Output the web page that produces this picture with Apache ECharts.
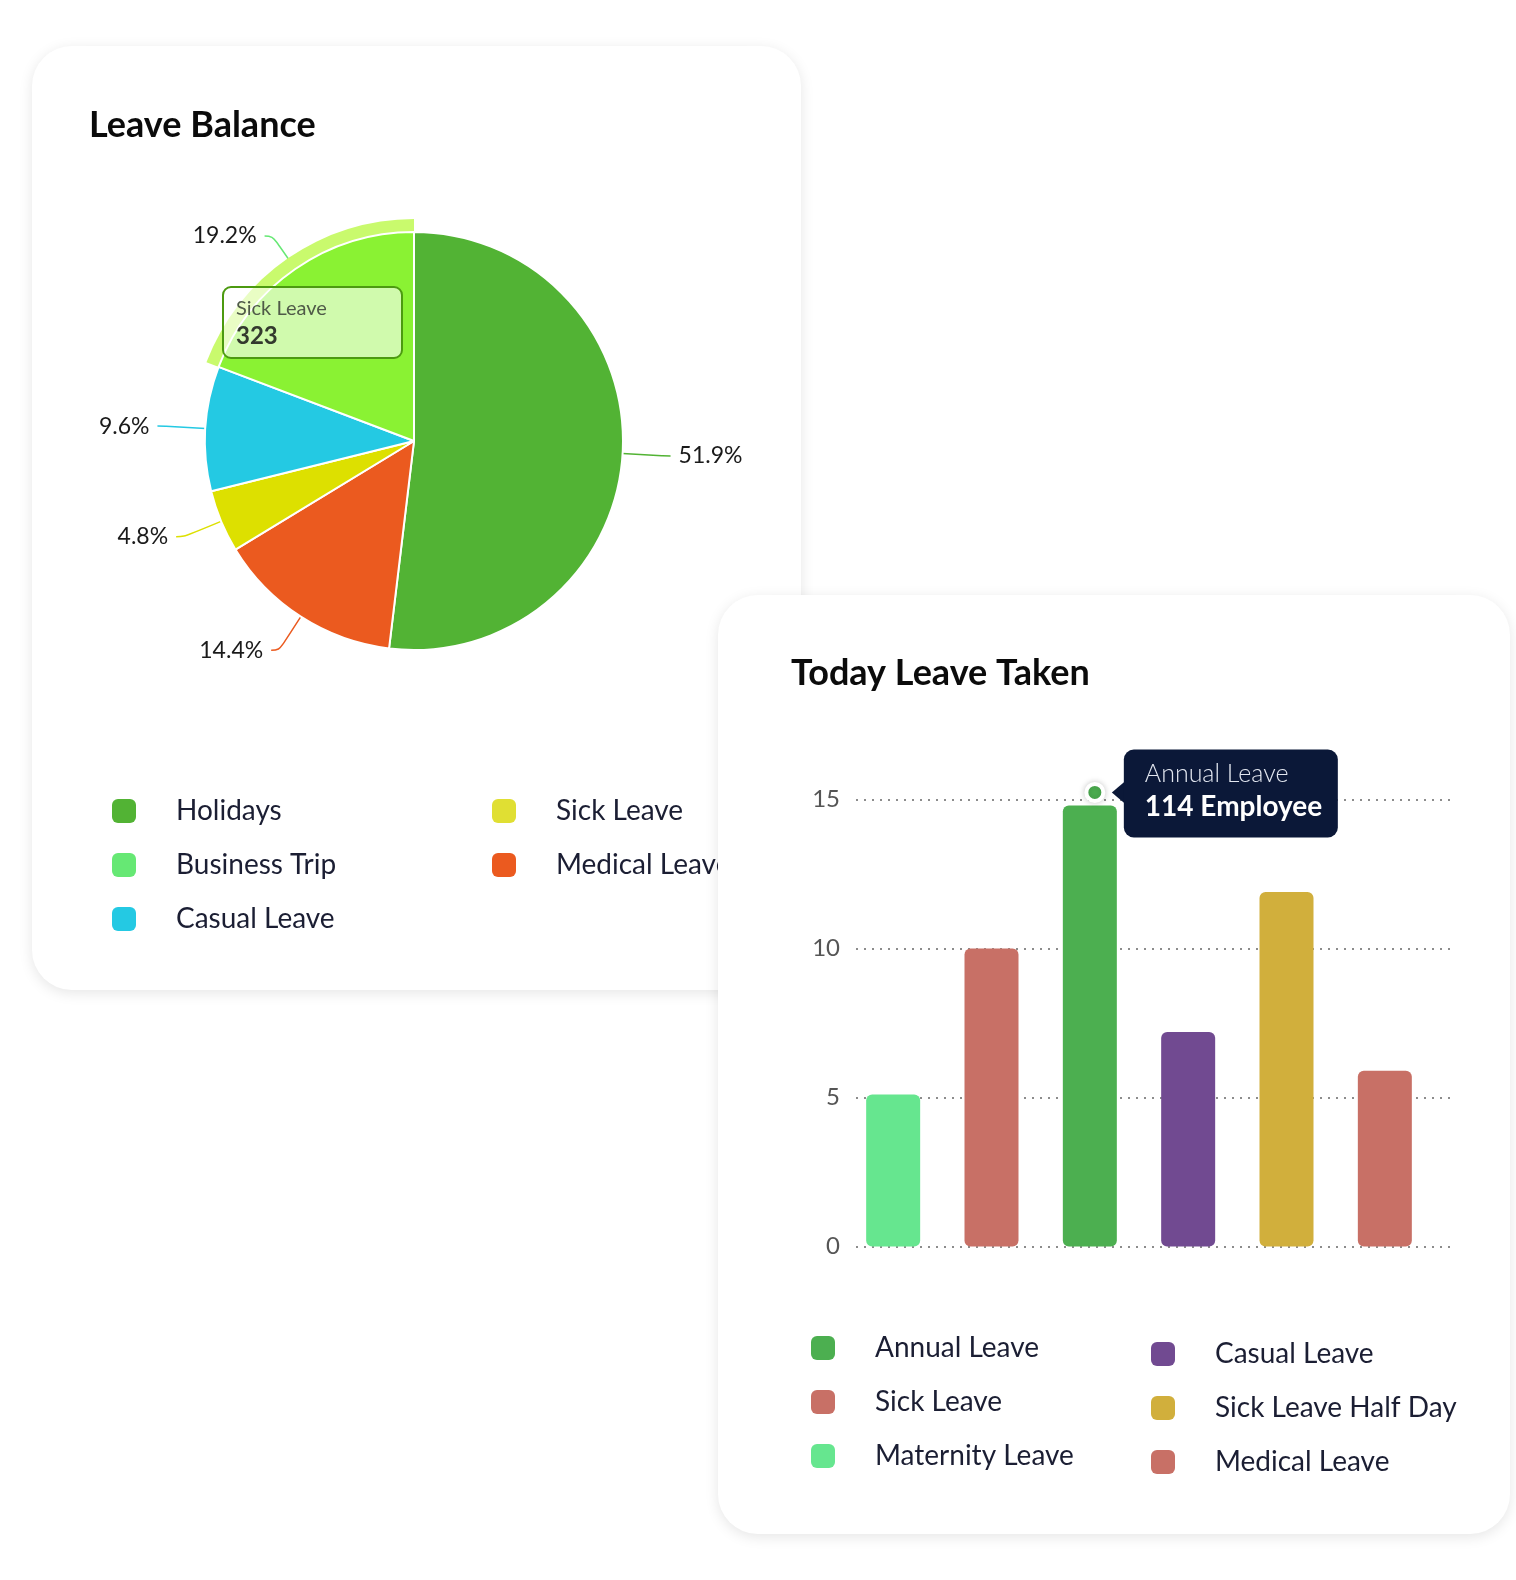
<!DOCTYPE html>
<html>
<head>
<meta charset="utf-8">
<script src="https://cdn.jsdelivr.net/npm/echarts@6/dist/echarts.min.js"></script>
<style>
html,body{margin:0;padding:0;background:#ffffff;}
#c1,#c2{position:absolute;left:0;top:0;width:1516px;height:1580px;}
</style>
</head>
<body>
<div id="c1"></div>
<div id="c2"></div>
<script>
// ---------- Leave Balance (pie) ----------
const pieTitle = 'Leave Balance';
const pieCategories = ['Holidays', 'Medical Leave', 'Sick Leave', 'Casual Leave', 'Business Trip'];
const pieValues = [872, 242, 81, 162, 323];
const pieColors = ['#52b334', '#eb5a1f', '#dde000', '#24c9e3', '#8af233'];
const pieLineColors = ['#52b334', '#eb5a1f', '#dde000', '#24c9e3', '#66e874'];
const pieHighlightIndex = 4;
const pieLegendCol1 = ['Holidays', 'Business Trip', 'Casual Leave'];
const pieLegendCol2 = ['Sick Leave', 'Medical Leave'];
const pieLegendColors = ['#52b334', '#66e874', '#24c9e3', '#e0df33', '#eb5a1f'];
const pieTipName = 'Sick Leave';
const pieTipValue = 323;

// ---------- Today Leave Taken (bars) ----------
const barTitle = 'Today Leave Taken';
const barCategories = ['Maternity Leave', 'Sick Leave', 'Annual Leave', 'Casual Leave', 'Sick Leave Half Day', 'Medical Leave'];
const barValues = [5.1, 10, 14.8, 7.2, 11.9, 5.9];
const barColors = ['#66e68f', '#c87066', '#4caf50', '#714a91', '#d1af3c', '#c87066'];
const yTicks = [0, 5, 10, 15];
const barLegendCol1 = ['Annual Leave', 'Sick Leave', 'Maternity Leave'];
const barLegendCol2 = ['Casual Leave', 'Sick Leave Half Day', 'Medical Leave'];
const barTipCategory = 'Annual Leave';
const barTipText = '114 Employee';

const FONT = 'Lato';
const pieTotal = pieValues.reduce((a, b) => a + b, 0);

function legendBlock(names, colorOf, left, top) {
  return {
    orient: 'vertical', left: left, top: top, padding: 0,
    itemWidth: 24, itemHeight: 24, itemGap: 24, icon: 'roundRect',
    selectedMode: false,
    data: names.map(n => ({ name: n, itemStyle: { color: colorOf(n) } })),
    textStyle: { fontFamily: FONT, fontSize: 28, color: '#1b1e33', lineHeight: 30, padding: [0, 0, 0, 35] }
  };
}

// ===== Chart 1 =====
const chart1 = echarts.init(document.getElementById('c1'), null, { renderer: 'canvas' });
const pieLegendAll = pieLegendCol1.concat(pieLegendCol2);
const pieLegendColorOf = n => pieLegendColors[pieLegendAll.indexOf(n)];
chart1.setOption({
  animation: false,
  graphic: [
    { type: 'rect', z: -5, shape: { x: 32, y: 46, width: 769, height: 944, r: 40 },
      style: { fill: '#ffffff', shadowBlur: 14, shadowColor: 'rgba(0,0,0,0.10)', shadowOffsetY: 3 } },
    { type: 'text', z: 10, x: 89, y: 125,
      style: { text: pieTitle, font: 'bold 36px Lato', fill: '#0b0b0b', verticalAlign: 'middle' } },
    { type: 'group', z: 100, children: [
      { type: 'rect', z: 100, shape: { x: 223, y: 287, width: 179, height: 71, r: 8 },
        style: { fill: 'rgba(255,255,255,0.6)', stroke: '#4c9a10', lineWidth: 2 } },
      { type: 'text', z: 101, x: 236, y: 309,
        style: { text: pieTipName, font: '20px Lato', fill: '#4f5a48', verticalAlign: 'middle' } },
      { type: 'text', z: 101, x: 236, y: 336,
        style: { text: String(pieTipValue), font: 'bold 24px Lato', fill: '#333a2e', verticalAlign: 'middle' } }
    ] }
  ],
  legend: [
    legendBlock(pieLegendCol1, pieLegendColorOf, 112, 796),
    legendBlock(pieLegendCol2, pieLegendColorOf, 492, 796)
  ],
  series: [
    {
      type: 'pie', name: 'highlight', center: [414, 441], radius: [0, 222],
      startAngle: 90, clockwise: true, silent: true, avoidLabelOverlap: false,
      label: { show: false }, labelLine: { show: false },
      data: pieCategories.map((c, i) => ({ name: c, value: pieValues[i],
        itemStyle: { color: i === pieHighlightIndex ? '#c9fa6d' : 'rgba(0,0,0,0)' } }))
    },
    {
      type: 'pie', name: pieTitle, center: [414, 441], radius: [0, 209],
      startAngle: 90, clockwise: true, avoidLabelOverlap: false,
      itemStyle: { borderColor: '#ffffff', borderWidth: 2 },
      label: {
        show: true, fontFamily: FONT, fontSize: 23, color: '#1a1a1a', distanceToLabelLine: 8,
        formatter: p => (p.value / pieTotal * 100).toFixed(1) + '%'
      },
      labelLine: { length: 40, length2: 8, smooth: 0.4, lineStyle: { width: 1.5 } },
      emphasis: { disabled: true },
      data: pieCategories.map((c, i) => ({ name: c, value: pieValues[i],
        itemStyle: { color: pieColors[i] },
        labelLine: { lineStyle: { color: pieLineColors[i] } } }))
    }
  ]
});

// ===== Chart 2 =====
const chart2 = echarts.init(document.getElementById('c2'), null, { renderer: 'canvas' });
const barColorOf = n => barColors[barCategories.indexOf(n)];
const cardGraphics = [
  { type: 'rect', z: -5, shape: { x: 718, y: 595, width: 792, height: 939, r: 40 },
    style: { fill: '#ffffff', shadowBlur: 14, shadowColor: 'rgba(0,0,0,0.10)', shadowOffsetY: 3 } },
  { type: 'text', z: 10, x: 791, y: 673,
    style: { text: barTitle, font: 'bold 36px Lato', fill: '#0b0b0b', verticalAlign: 'middle' } }
];
chart2.setOption({
  animation: false,
  grid: [
    { left: 844, top: 799.5, width: 590, height: 447 },
    { left: 856, top: 799.5, width: 595, height: 447 }
  ],
  xAxis: [
    { type: 'category', gridIndex: 0, data: barCategories, show: false },
    { type: 'category', gridIndex: 1, data: barCategories, show: false }
  ],
  yAxis: [
    { type: 'value', gridIndex: 0, min: yTicks[0], max: yTicks[yTicks.length - 1], show: false },
    { type: 'value', gridIndex: 1, z: 1, min: yTicks[0], max: yTicks[yTicks.length - 1], interval: yTicks[1] - yTicks[0],
      axisLine: { show: false }, axisTick: { show: false },
      axisLabel: { fontFamily: FONT, fontSize: 24, color: '#555555', margin: 16 },
      splitLine: { show: true, lineStyle: { color: '#8c8c8c', width: 2, type: [2, 6] } } }
  ],
  legend: [
    legendBlock(barLegendCol1, barColorOf, 811, 1333),
    legendBlock(barLegendCol2, barColorOf, 1151, 1339)
  ],
  graphic: cardGraphics,
  series: barCategories.map((c, i) => ({
    type: 'bar', name: c, stack: 'all', xAxisIndex: 0, yAxisIndex: 0, barWidth: 54, z: 3,
    itemStyle: { color: barColors[i], borderRadius: 6 },
    data: barCategories.map((_, j) => (j === i ? barValues[i] : '-'))
  }))
});

// tooltip annotation anchored on the Annual Leave bar top
const tipIdx = barCategories.indexOf(barTipCategory);
const barTopPx = chart2.convertToPixel({ xAxisIndex: 0, yAxisIndex: 0 }, [tipIdx, barValues[tipIdx]]);
const dotX = barTopPx[0] + 5, dotY = barTopPx[1] - 13;
const tipX = dotX + 29, tipY = dotY - 43;
chart2.setOption({
  graphic: cardGraphics.concat([
    { type: 'circle', z: 50, shape: { cx: dotX, cy: dotY, r: 8.5 },
      style: { fill: barColors[tipIdx], stroke: '#ffffff', lineWidth: 4, shadowBlur: 6, shadowColor: 'rgba(0,0,0,0.18)' } },
    { type: 'polygon', z: 50, shape: { points: [[tipX - 12, dotY], [tipX + 1, dotY - 11], [tipX + 1, dotY + 11]] },
      style: { fill: '#0b1838' } },
    { type: 'rect', z: 50, shape: { x: tipX, y: tipY, width: 214, height: 88, r: 10 },
      style: { fill: '#0b1838' } },
    { type: 'text', z: 51, x: tipX + 21, y: tipY + 24,
      style: { text: barTipCategory, font: '300 25px Lato', fill: '#e3e7f0', verticalAlign: 'middle' } },
    { type: 'text', z: 51, x: tipX + 21, y: tipY + 58,
      style: { text: barTipText, font: 'bold 28px Lato', fill: '#ffffff', verticalAlign: 'middle' } }
  ])
}, { replaceMerge: ['graphic'] });
</script>
</body>
</html>
